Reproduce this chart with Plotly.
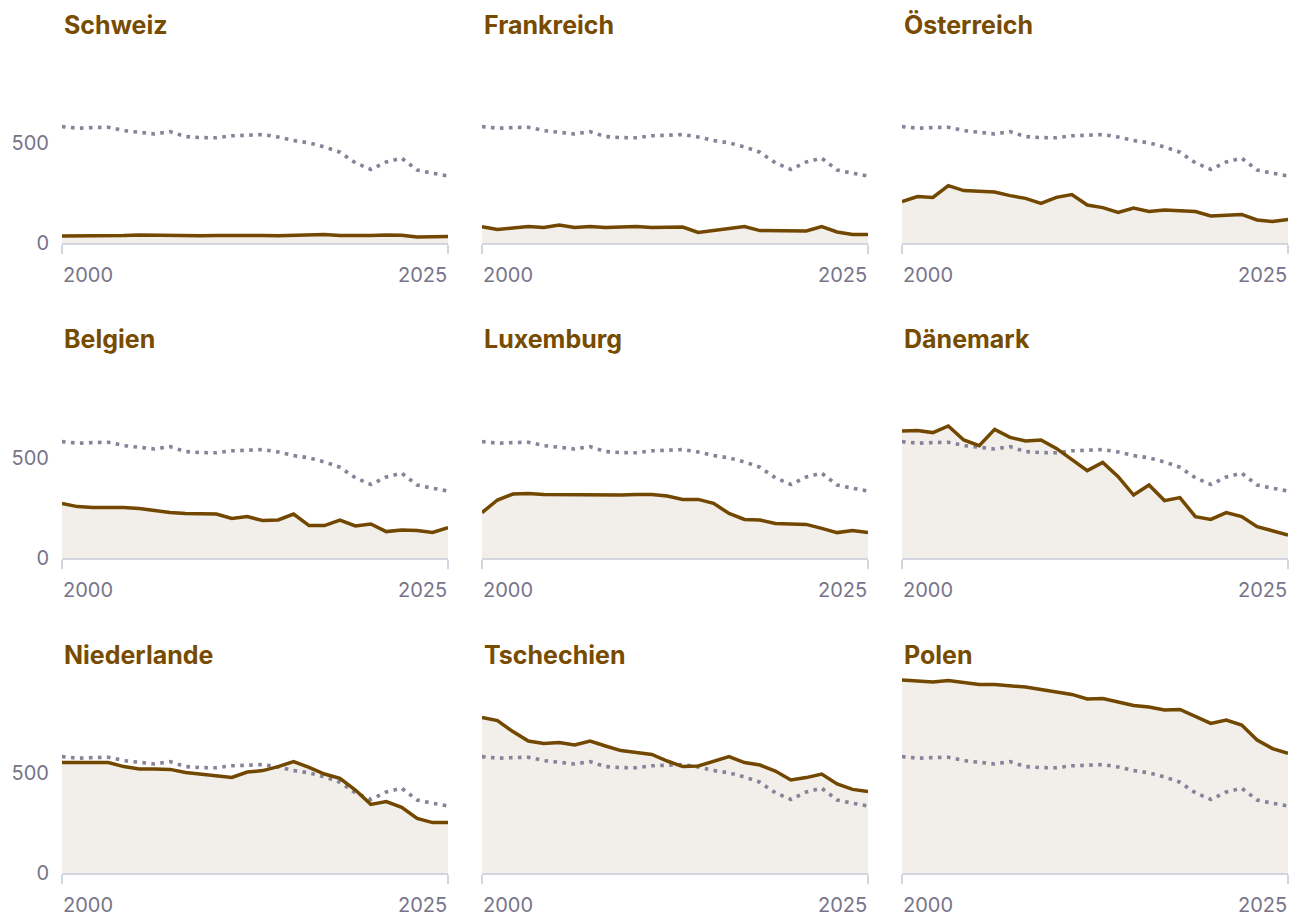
import plotly.graph_objects as go

years = list(range(2000, 2026))

countries = ["Schweiz", "Frankreich", "Österreich",
             "Belgien", "Luxemburg", "Dänemark",
             "Niederlande", "Tschechien", "Polen"]

reference = [582, 574, 577, 579, 562, 553, 545, 557, 532, 527, 526, 536, 541, 542,
             530, 512, 501, 480, 454, 401, 368, 405, 424, 365, 349, 335]

schweiz = [35, 35, 36, 36, 37, 40, 38, 36, 36, 36, 37, 38, 38, 37, 36, 37, 40, 42, 38,
           37, 38, 40, 39, 30, 30, 33]
frankreich = [82, 68, 75, 83, 78, 90, 78, 83, 78, 78, 82, 77, 80, 80, 53, 62, 72, 82, 62,
              60, 60, 60, 82, 55, 43, 43]
oesterreich = [207, 232, 228, 287, 262, 257, 255, 237, 223, 198, 228, 242, 190, 177, 153,
               175, 158, 165, 162, 157, 135, 137, 143, 115, 107, 117]
belgien = [273, 257, 253, 253, 252, 247, 237, 228, 223, 223, 220, 198, 207, 187, 190, 220,
           162, 162, 190, 160, 170, 132, 140, 137, 128, 152]
luxemburg = [227, 290, 320, 322, 318, 317, 317, 315, 313, 315, 317, 318, 310, 293, 293,
             273, 223, 193, 190, 173, 170, 168, 148, 127, 137, 127]
daenemark = [635, 637, 627, 660, 590, 562, 643, 603, 585, 590, 548, 493, 437, 478, 407,
             315, 365, 287, 302, 207, 193, 227, 207, 157, 135, 115]
niederlande = [552, 552, 550, 552, 532, 520, 520, 518, 503, 495, 487, 478, 505, 512, 532,
               557, 528, 495, 473, 415, 343, 357, 328, 273, 252, 253]
tschechien = [778, 762, 707, 660, 648, 653, 640, 660, 635, 612, 603, 593, 560, 532, 535,
              560, 582, 552, 540, 510, 465, 477, 495, 445, 418, 407]
polen = [965, 960, 955, 962, 952, 943, 942, 937, 930, 917, 905, 893, 870, 872, 855, 838,
         830, 815, 818, 782, 748, 765, 740, 665, 622, 598]

series = [schweiz, frankreich, oesterreich, belgien, luxemburg, daenemark,
          niederlande, tschechien, polen]

y_ticks = [0, 500]
x_ticks = [2000, 2025]

# styling
OFF = 8                      # default page body margin
W, H = 1290, 910
BROWN = "#724700"
TITLE = "#774c00"
FILL = "#f2efea"
DOT = "#86829a"
AXIS = "#d3d6de"
TICKTXT = "#77748a"
FONT = "Inter"

col_px = [(62, 448), (482, 868), (902, 1288)]
row_px = [(43, 243), (358, 558), (673, 873)]   # (top, zero line) in page px
title_px = [25, 339, 655]

fig = go.Figure()
annotations = []
layout = {}

for i, (name, vals) in enumerate(zip(countries, series)):
    r, c = divmod(i, 3)
    s = "" if i == 0 else str(i + 1)
    xa, ya = "x" + s, "y" + s

    fig.add_trace(go.Scatter(x=years, y=vals, mode="lines", line=dict(width=0, color=FILL),
                             fill="tozeroy", fillcolor=FILL, xaxis=xa, yaxis=ya,
                             hoverinfo="skip", showlegend=False))
    fig.add_trace(go.Scatter(x=years, y=reference, mode="lines",
                             line=dict(color=DOT, width=3.6, dash="3.6px,5.4px"),
                             xaxis=xa, yaxis=ya, showlegend=False))
    fig.add_trace(go.Scatter(x=years, y=vals, mode="lines",
                             line=dict(color=BROWN, width=3.5),
                             xaxis=xa, yaxis=ya, showlegend=False))

    x0, x1 = (p - OFF for p in col_px[c])
    top, zero = (p - OFF for p in row_px[r])
    layout["xaxis" + s] = dict(
        domain=[x0 / W, x1 / W], range=[x_ticks[0], x_ticks[-1]],
        showline=True, linecolor=AXIS, linewidth=2, mirror=False,
        ticks="outside", tickvals=x_ticks, ticklen=9, tickwidth=2, tickcolor=AXIS,
        showticklabels=False, showgrid=False, zeroline=False, fixedrange=True,
        automargin=False, anchor=ya,
    )
    layout["yaxis" + s] = dict(
        domain=[(H - zero) / H, (H - top) / H], range=[0, 1000],
        showline=False, showgrid=False, zeroline=False, ticks="",
        tickvals=y_ticks, showticklabels=(c == 0),
        tickfont=dict(family=FONT, size=20, color=TICKTXT),
        ticklabelstandoff=12, fixedrange=True, automargin=False, anchor=xa,
    )

    # title
    annotations.append(dict(
        text="<b>%s</b>" % name, xref="paper", yref="paper",
        x=x0 / W, y=(H - (title_px[r] - OFF)) / H, xanchor="left", yanchor="middle",
        showarrow=False, font=dict(family=FONT, size=25, color=TITLE),
    ))
    # x tick labels (first left-aligned, last right-aligned)
    ylab = (H - (zero + 32)) / H
    annotations.append(dict(
        text=str(x_ticks[0]), xref=xa, yref="paper", x=x_ticks[0], y=ylab,
        xanchor="left", yanchor="middle", showarrow=False, borderpad=0,
        font=dict(family=FONT, size=20, color=TICKTXT),
    ))
    annotations.append(dict(
        text=str(x_ticks[-1]), xref=xa, yref="paper", x=x_ticks[-1], y=ylab,
        xanchor="right", yanchor="middle", showarrow=False, borderpad=0,
        font=dict(family=FONT, size=20, color=TICKTXT),
    ))

fig.update_layout(
    width=W, height=H,
    margin=dict(l=0, r=0, t=0, b=0, pad=0, autoexpand=False),
    paper_bgcolor="white", plot_bgcolor="white",
    annotations=annotations, showlegend=False,
    font=dict(family=FONT),
    **layout,
)

fig.write_html("out.html")
